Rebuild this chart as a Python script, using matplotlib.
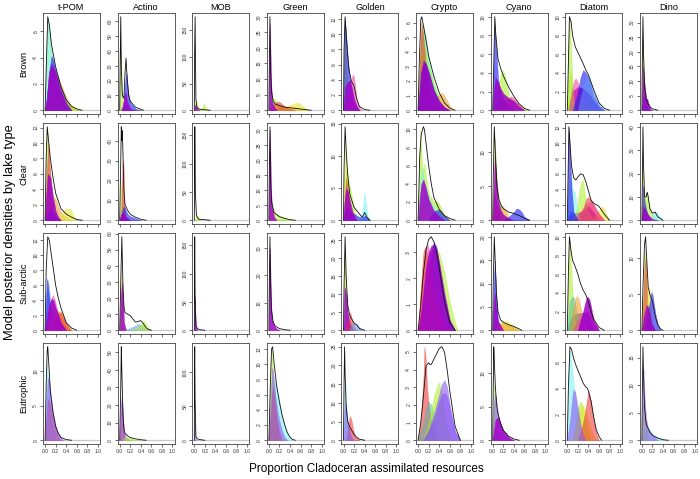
import matplotlib
matplotlib.use("Agg")
import matplotlib.pyplot as plt
from matplotlib.ticker import MaxNLocator
import numpy as np

plt.rcParams['font.family'] = ['Liberation Sans', 'DejaVu Sans']

RESOURCES = ["t-POM", "Actino", "MOB", "Green", "Golden", "Crypto", "Cyano", "Diatom", "Dino"]
LAKE_TYPES = ["Brown", "Clear", "Sub-arctic", "Eutrophic"]
X_TICKS = [0.0, 0.2, 0.4, 0.6, 0.8, 1.0]

# Each curve: (lake key, x knots, density knots); 'k' = pooled density line
BROWN_TPOM = [
    ("A", [0, 0.02, 0.05, 0.1, 0.15, 0.2, 0.3, 0.4, 0.5], [0, 4, 7.1, 5.5, 3.5, 2.2, 1, 0.4, 0]),
    ("O", [0, 0.05, 0.1, 0.15, 0.2, 0.3, 0.4, 0.45, 0.5, 0.6], [0, 1, 2.5, 3.2, 3, 2, 1, 0.6, 0.3, 0]),
    ("G", [0, 0.1, 0.2, 0.3, 0.4, 0.5, 0.6, 0.7], [0, 0.5, 1, 1, 0.6, 0.4, 0.1, 0]),
    ("B", [0, 0.03, 0.08, 0.12, 0.15, 0.2, 0.3, 0.4, 0.5], [0, 1, 3, 4.1, 3.9, 3, 1.6, 0.6, 0]),
    ("M", [0, 0.03, 0.07, 0.12, 0.15, 0.2, 0.3, 0.4, 0.5], [0, 0.8, 2.8, 3.5, 3.4, 2.8, 1.4, 0.4, 0]),
    ("k", [0, 0.02, 0.05, 0.08, 0.12, 0.2, 0.3, 0.4, 0.5, 0.6, 0.7], [0, 3, 7.1, 6.5, 5, 3.3, 1.8, 0.8, 0.3, 0.1, 0]),
]
BROWN_ACTINO = [
    ("G", [0, 0.01, 0.02, 0.04, 0.06, 0.1, 0.2], [0, 30, 40, 15, 5, 2, 0]),
    ("B", [0.05, 0.08, 0.11, 0.13, 0.16, 0.2, 0.3, 0.4], [0, 8, 22, 25, 12, 5, 1, 0]),
    ("M", [0.02, 0.06, 0.09, 0.11, 0.14, 0.2, 0.3], [0, 3, 10, 12, 6, 1, 0]),
    ("k", [0, 0.01, 0.02, 0.03, 0.05, 0.08, 0.1, 0.12, 0.14, 0.17, 0.2, 0.3, 0.45], [0, 35, 63, 30, 10, 8, 25, 35, 22, 10, 6, 2, 0]),
]
BROWN_MOB = [
    ("G", [0, 0.02, 0.04, 0.06, 0.08, 0.12, 0.16, 0.18, 0.2, 0.24, 0.3], [0, 15, 20, 12, 3, 2, 6, 13, 8, 2, 0]),
    ("M", [0, 0.01, 0.03, 0.06, 0.1], [0, 10, 8, 2, 0]),
    ("k", [0, 0.005, 0.015, 0.03, 0.05, 0.1, 0.2, 0.3], [0, 100, 175, 20, 5, 2, 1, 0]),
]
BROWN_GREEN = [
    ("O", [0.1, 0.2, 0.3, 0.4, 0.5, 0.6, 0.7], [0, 1.2, 1.3, 1.2, 1, 0.5, 0]),
    ("Y", [0.2, 0.3, 0.4, 0.5, 0.55, 0.6, 0.7, 0.75], [0, 0.8, 1.6, 2.3, 2.4, 2, 0.6, 0]),
    ("G", [0, 0.03, 0.06, 0.1, 0.15, 0.2, 0.3, 0.4], [0, 3, 4, 3.8, 2.5, 1.5, 0.5, 0]),
    ("R", [0, 0.05, 0.1, 0.15, 0.2, 0.25, 0.3, 0.4, 0.5], [0, 1, 2, 2.8, 2.7, 2, 1.2, 0.5, 0]),
    ("M", [0, 0.01, 0.02, 0.04, 0.06, 0.1, 0.15], [0, 15, 28, 10, 3, 1, 0]),
    ("k", [0, 0.01, 0.02, 0.03, 0.05, 0.08, 0.12, 0.2, 0.3, 0.5, 0.7, 0.8], [0, 18, 30, 14, 6, 3, 2, 1.5, 1, 0.6, 0.2, 0]),
]
BROWN_GOLDEN = [
    ("G", [0, 0.01, 0.03, 0.05, 0.08, 0.12], [0, 10, 12.3, 6, 2, 0]),
    ("B", [0, 0.02, 0.04, 0.08, 0.12, 0.16, 0.2, 0.3], [0, 12, 11, 7, 4, 2, 1, 0]),
    ("P", [0.05, 0.1, 0.15, 0.18, 0.2, 0.25, 0.3, 0.35], [0, 1.5, 4.2, 4.7, 4.3, 1.5, 0.4, 0]),
    ("M", [0, 0.03, 0.07, 0.12, 0.16, 0.2, 0.25, 0.3], [0, 3, 3.6, 4, 3, 1.5, 0.5, 0]),
    ("k", [0, 0.01, 0.03, 0.06, 0.1, 0.15, 0.2, 0.25, 0.3, 0.4, 0.5], [0, 8, 12.3, 9, 5.5, 3.8, 3.2, 1.5, 0.5, 0.1, 0]),
]
BROWN_CRYPTO = [
    ("A", [0, 0.05, 0.1, 0.15, 0.2, 0.25, 0.3, 0.4, 0.5], [0, 5, 5.8, 5, 3.6, 2.6, 1.8, 0.8, 0]),
    ("G", [0, 0.04, 0.08, 0.12, 0.2, 0.3, 0.4, 0.5, 0.6], [0, 4, 6, 4.5, 3, 1.8, 0.8, 0.2, 0]),
    ("R", [0, 0.03, 0.06, 0.1, 0.15, 0.2, 0.3], [0, 3, 6, 5, 3, 1.5, 0]),
    ("O", [0.2, 0.3, 0.4, 0.45, 0.5, 0.6, 0.65], [0, 0.6, 1.1, 1.2, 1, 0.3, 0]),
    ("B", [0, 0.05, 0.1, 0.15, 0.2, 0.3, 0.4, 0.5, 0.6], [0, 2.5, 3.4, 3.2, 2.6, 1.4, 0.6, 0.2, 0]),
    ("M", [0, 0.03, 0.06, 0.1, 0.14, 0.2, 0.3, 0.4, 0.5, 0.6], [0, 1.2, 2.6, 3.2, 3.2, 2.6, 1.3, 0.6, 0.2, 0]),
    ("k", [0, 0.02, 0.05, 0.07, 0.1, 0.15, 0.2, 0.3, 0.4, 0.5, 0.6, 0.7], [0, 3, 6.2, 6.4, 5.8, 4.8, 3.7, 2.3, 1.2, 0.5, 0.15, 0]),
]
BROWN_CYANO = [
    ("G", [0, 0.1, 0.2, 0.3, 0.4, 0.5, 0.6, 0.7], [0, 1, 1.5, 1.4, 1.1, 0.6, 0.2, 0]),
    ("G", [0.05, 0.1, 0.15, 0.2, 0.25, 0.3, 0.35, 0.4], [0, 2.5, 3.8, 4.3, 3.2, 1.8, 0.8, 0]),
    ("B", [0, 0.02, 0.04, 0.06, 0.1, 0.15, 0.2, 0.3, 0.4], [0, 5, 9, 7, 3.5, 1.8, 1.2, 0.5, 0]),
    ("P", [0.1, 0.2, 0.3, 0.35, 0.4, 0.5, 0.6], [0, 0.8, 1.3, 1.5, 1.3, 0.6, 0]),
    ("M", [0, 0.02, 0.05, 0.1, 0.15, 0.2, 0.3, 0.4, 0.5, 0.6], [0, 2, 3.5, 3, 2.3, 1.8, 1.3, 1, 0.4, 0]),
    ("k", [0, 0.02, 0.04, 0.06, 0.1, 0.15, 0.2, 0.3, 0.4, 0.5, 0.6, 0.7], [0, 5, 10, 8, 5.5, 4.5, 3.7, 2.5, 1.5, 0.7, 0.2, 0]),
]
BROWN_DIATOM = [
    ("M", [0, 0.05, 0.1, 0.2, 0.3, 0.4, 0.5, 0.6, 0.7], [0, 1, 2, 2.5, 2.3, 1.8, 1, 0.3, 0]),
    ("G", [0, 0.02, 0.04, 0.06, 0.09, 0.12, 0.15], [0, 6, 10, 8, 4, 1, 0]),
    ("G", [0, 0.03, 0.06, 0.1, 0.14], [0, 3, 4.2, 2, 0]),
    ("P", [0.03, 0.08, 0.13, 0.16, 0.2, 0.25, 0.3, 0.4], [0, 2, 3.2, 3.4, 3, 2, 1, 0]),
    ("B", [0.1, 0.2, 0.25, 0.3, 0.35, 0.4, 0.45, 0.5, 0.6, 0.7], [0, 2, 3.5, 4.3, 4, 3.5, 2.5, 1.5, 0.5, 0]),
    ("L", [0.2, 0.3, 0.37, 0.42, 0.5, 0.6, 0.7], [0, 2.5, 3.8, 3.4, 2, 0.6, 0]),
    ("k", [0, 0.02, 0.04, 0.07, 0.1, 0.15, 0.2, 0.25, 0.3, 0.35, 0.4, 0.5, 0.6, 0.7, 0.8], [0, 5, 10, 9.5, 8, 6.8, 6.2, 5.6, 5, 4.3, 3.8, 2.2, 0.8, 0.2, 0]),
]
BROWN_DINO = [
    ("G", [0, 0.01, 0.02, 0.04, 0.08, 0.12], [0, 15, 25, 10, 3, 0]),
    ("B", [0, 0.03, 0.06, 0.1, 0.15], [0, 5, 4, 1, 0]),
    ("M", [0, 0.02, 0.05, 0.08, 0.1, 0.13, 0.16, 0.2], [0, 15, 9, 4, 4, 2, 0.5, 0]),
    ("k", [0, 0.01, 0.02, 0.03, 0.05, 0.08, 0.12, 0.16, 0.2, 0.3], [0, 20, 32, 20, 8, 4, 2, 1, 0.5, 0]),
]

CLEAR_TPOM = [
    ("O", [0, 0.05, 0.1, 0.15, 0.2, 0.25, 0.3, 0.35, 0.4, 0.5], [0, 1, 2, 3, 2.8, 1.8, 1, 0.6, 0.4, 0]),
    ("Y", [0.2, 0.3, 0.35, 0.4, 0.45, 0.5, 0.55, 0.6], [0, 0.6, 1.2, 1.5, 1.5, 1.2, 0.5, 0]),
    ("G", [0, 0.02, 0.04, 0.07, 0.1, 0.15, 0.2, 0.25], [0, 8, 12, 8, 4, 2, 1, 0]),
    ("R", [0, 0.03, 0.06, 0.1, 0.15, 0.2], [0, 6, 10, 6, 2, 0]),
    ("B", [0, 0.05, 0.1, 0.15, 0.2, 0.3], [0, 1, 1.5, 1, 0.5, 0]),
    ("M", [0, 0.02, 0.05, 0.1, 0.15, 0.2, 0.25, 0.3], [0, 3, 6, 5.5, 3, 1.2, 0.4, 0]),
    ("k", [0, 0.02, 0.04, 0.07, 0.1, 0.15, 0.2, 0.3, 0.4, 0.5, 0.6, 0.7], [0, 8, 12.1, 10, 8, 5.5, 3.5, 1.5, 0.8, 0.4, 0.1, 0]),
]
CLEAR_ACTINO = [
    ("G", [0, 0.02, 0.04, 0.06, 0.1, 0.2], [0, 15, 20, 8, 2, 0]),
    ("R", [0, 0.03, 0.05, 0.07, 0.09, 0.12], [0, 5, 28, 30, 8, 0]),
    ("B", [0, 0.04, 0.07, 0.1, 0.15, 0.2, 0.3, 0.4], [0, 4, 7, 6, 3, 2, 1, 0]),
    ("M", [0, 0.03, 0.06, 0.1, 0.2], [0, 3, 4, 2, 0]),
    ("k", [0, 0.02, 0.03, 0.04, 0.05, 0.06, 0.08, 0.1, 0.15, 0.2, 0.3, 0.4, 0.5], [0, 30, 47, 40, 45, 35, 15, 8, 5, 3, 1.5, 0.5, 0]),
]
CLEAR_MOB = [
    ("G", [0, 0.03, 0.05, 0.08, 0.12], [0, 5, 10, 4, 0]),
    ("k", [0, 0.005, 0.01, 0.02, 0.04, 0.08, 0.2, 0.3], [0, 80, 165, 50, 8, 2, 1, 0]),
]
CLEAR_GREEN = [
    ("G", [0, 0.02, 0.05, 0.1, 0.15, 0.2, 0.3, 0.4, 0.5], [0, 8, 5, 3, 2, 1.5, 0.8, 0.3, 0]),
    ("M", [0, 0.01, 0.02, 0.04, 0.06, 0.1, 0.15], [0, 20, 30, 10, 4, 1, 0]),
    ("k", [0, 0.01, 0.02, 0.03, 0.05, 0.1, 0.2, 0.3, 0.4, 0.5], [0, 20, 31, 15, 6, 2.5, 1.2, 0.6, 0.2, 0]),
]
CLEAR_GOLDEN = [
    ("Y", [0, 0.02, 0.04, 0.06, 0.1, 0.15], [0, 8, 12, 8, 3, 0]),
    ("G", [0, 0.03, 0.06, 0.1, 0.15, 0.2, 0.25], [0, 6, 8, 6, 4, 2, 0]),
    ("R", [0, 0.03, 0.05, 0.08, 0.12, 0.18], [0, 4, 6.5, 5, 2, 0]),
    ("C", [0.3, 0.35, 0.38, 0.4, 0.42, 0.45, 0.5], [0, 1, 3, 4.3, 3, 1, 0]),
    ("B", [0, 0.05, 0.1, 0.2, 0.3, 0.35, 0.4, 0.45, 0.5], [0, 2, 1.5, 1, 0.5, 0.5, 0.7, 0.4, 0]),
    ("M", [0, 0.02, 0.05, 0.08, 0.12, 0.18, 0.25], [0, 3, 5, 4.5, 3, 1, 0]),
    ("k", [0, 0.01, 0.03, 0.05, 0.08, 0.12, 0.2, 0.3, 0.35, 0.38, 0.4, 0.42, 0.45, 0.5], [0, 8, 14.5, 11, 7, 4, 2, 1, 0.5, 0.8, 1.2, 0.9, 0.4, 0]),
]
CLEAR_CRYPTO = [
    ("G", [0, 0.02, 0.04, 0.08, 0.1, 0.12, 0.16, 0.2, 0.3, 0.35, 0.4, 0.5, 0.6], [0, 6, 10, 6, 5.5, 6.3, 4.5, 3, 2, 2.2, 1.8, 0.6, 0]),
    ("C", [0, 0.03, 0.06, 0.08, 0.12, 0.2, 0.3, 0.4, 0.5], [0, 3, 5.5, 5.8, 4, 2.5, 1.5, 0.6, 0]),
    ("B", [0.2, 0.3, 0.4, 0.5, 0.6], [0, 1, 1.2, 0.5, 0]),
    ("M", [0, 0.03, 0.06, 0.1, 0.15, 0.2, 0.3, 0.4, 0.5], [0, 2.5, 4, 4.5, 3.5, 2.3, 1, 0.4, 0]),
    ("k", [0, 0.03, 0.06, 0.1, 0.12, 0.15, 0.2, 0.25, 0.3, 0.4, 0.5, 0.6, 0.7], [0, 7, 9.5, 10.3, 10, 8.5, 6, 4, 2.5, 1.2, 0.5, 0.2, 0]),
]
CLEAR_CYANO = [
    ("G", [0, 0.02, 0.04, 0.07, 0.1, 0.15, 0.2, 0.3], [0, 8, 12, 7, 4, 2, 1, 0]),
    ("O", [0.05, 0.1, 0.15, 0.2, 0.25, 0.3, 0.35], [0, 1.5, 2.2, 2, 1.4, 0.6, 0]),
    ("R", [0, 0.03, 0.06, 0.1, 0.15], [0, 4, 3, 1.5, 0]),
    ("B", [0.2, 0.3, 0.4, 0.45, 0.5, 0.55, 0.6, 0.7], [0, 0.5, 1.2, 1.7, 1.6, 1.2, 0.5, 0]),
    ("M", [0, 0.02, 0.04, 0.06, 0.1, 0.15, 0.2, 0.3, 0.4], [0, 5, 9.5, 7, 3, 1.5, 0.8, 0.3, 0]),
    ("k", [0, 0.01, 0.03, 0.05, 0.08, 0.12, 0.16, 0.2, 0.3, 0.4, 0.5, 0.6, 0.7], [0, 6, 13.7, 10, 5, 3, 2.2, 1.7, 1.2, 1, 0.7, 0.3, 0]),
]
CLEAR_DIATOM = [
    ("B", [0, 0.05, 0.15, 0.3, 0.45, 0.55], [0, 1.2, 0.9, 0.8, 0.6, 0]),
    ("M", [0, 0.05, 0.1, 0.2, 0.3, 0.4, 0.5, 0.6], [0, 0.5, 0.8, 1, 1.2, 1.8, 1, 0]),
    ("C", [0, 0.03, 0.06, 0.1, 0.15, 0.2, 0.25], [0, 4, 6.3, 4, 3.5, 1, 0]),
    ("G", [0.1, 0.18, 0.22, 0.26, 0.3, 0.34, 0.4, 0.5], [0, 1.5, 3.5, 5, 5.2, 3, 1, 0]),
    ("Y", [0.45, 0.55, 0.62, 0.66, 0.7, 0.75, 0.8], [0, 0.8, 1.5, 1.8, 1.5, 0.6, 0]),
    ("R", [0.2, 0.3, 0.36, 0.4, 0.45, 0.5, 0.6, 0.7], [0, 1.5, 2.8, 3, 2.6, 2, 0.8, 0]),
    ("P", [0.1, 0.2, 0.3, 0.4, 0.45, 0.5, 0.6, 0.7], [0, 0.8, 1.5, 2.2, 2.5, 2, 0.8, 0]),
    ("B", [0, 0.02, 0.03, 0.05, 0.08, 0.12, 0.2], [0, 8, 12, 9, 4, 1, 0]),
    ("k", [0, 0.02, 0.03, 0.05, 0.08, 0.12, 0.16, 0.2, 0.25, 0.3, 0.35, 0.4, 0.45, 0.5, 0.55, 0.6, 0.7, 0.8], [0, 8, 12.1, 10, 7, 5.5, 5.2, 5.6, 6, 5.9, 5, 3.8, 2.6, 2.2, 2, 1.8, 0.8, 0]),
]
CLEAR_DINO = [
    ("Y", [0, 0.01, 0.02, 0.03, 0.05, 0.08], [0, 15, 25, 15, 5, 0]),
    ("G", [0, 0.03, 0.06, 0.1, 0.13, 0.16, 0.2, 0.3], [0, 8, 10, 12, 8, 5, 2, 0]),
    ("C", [0.1, 0.2, 0.25, 0.3, 0.35, 0.4], [0, 2.5, 4, 3, 1.2, 0]),
    ("B", [0, 0.02, 0.05, 0.1, 0.15], [0, 15, 8, 3, 0]),
    ("M", [0, 0.02, 0.05, 0.1, 0.15, 0.2, 0.3], [0, 6, 5, 3, 1.5, 0.5, 0]),
    ("k", [0, 0.01, 0.02, 0.03, 0.05, 0.08, 0.1, 0.12, 0.15, 0.2, 0.25, 0.3, 0.4], [0, 20, 40, 25, 10, 10, 12, 10, 5, 3, 3.5, 1.5, 0]),
]

SUB_TPOM = [
    ("L", [0, 0.02, 0.04, 0.07, 0.1, 0.15, 0.2, 0.3], [0, 5, 7, 6, 4, 2, 1, 0]),
    ("B", [0, 0.02, 0.04, 0.08, 0.12, 0.2, 0.3], [0, 4, 6.8, 4, 2, 0.5, 0]),
    ("G", [0.05, 0.1, 0.15, 0.2, 0.25, 0.3, 0.4, 0.5], [0, 1.5, 3, 3, 2.5, 1.5, 0.4, 0]),
    ("O", [0.05, 0.15, 0.2, 0.25, 0.3, 0.35, 0.4, 0.45, 0.5], [0, 1.5, 2, 2.5, 2.5, 2, 1, 0.4, 0]),
    ("R", [0.1, 0.2, 0.25, 0.3, 0.35, 0.4, 0.5], [0, 1.8, 2.3, 2.3, 1.5, 0.8, 0]),
    ("P", [0.02, 0.08, 0.12, 0.15, 0.18, 0.22, 0.3, 0.4], [0, 2.5, 4.3, 4.7, 4.2, 3, 1, 0]),
    ("M", [0, 0.04, 0.08, 0.12, 0.16, 0.2, 0.3, 0.4], [0, 2, 3.5, 4.2, 4, 3, 1, 0]),
    ("k", [0, 0.02, 0.05, 0.08, 0.12, 0.16, 0.2, 0.25, 0.3, 0.35, 0.4, 0.5, 0.6], [0, 8, 12.5, 12, 10, 8, 6, 4.3, 3, 2, 1, 0.3, 0]),
]
SUB_ACTINO = [
    ("Y", [0, 0.02, 0.03, 0.05, 0.07, 0.1], [0, 20, 35, 25, 6, 0]),
    ("M", [0, 0.02, 0.04, 0.06, 0.08, 0.12], [0, 20, 30, 20, 5, 0]),
    ("L", [0.1, 0.2, 0.3, 0.35, 0.4, 0.45, 0.5, 0.55], [0, 1.5, 3, 4, 3.5, 2, 0.5, 0]),
    ("G", [0.2, 0.3, 0.4, 0.45, 0.5, 0.55, 0.6], [0, 1, 3.5, 6, 4, 1, 0]),
    ("k", [0, 0.02, 0.04, 0.06, 0.08, 0.1, 0.15, 0.2, 0.3, 0.35, 0.4, 0.45, 0.5, 0.55, 0.6], [0, 30, 58, 30, 15, 11, 10, 9, 5, 5.5, 6, 4, 1.5, 0.5, 0]),
]
SUB_MOB = [
    ("M", [0, 0.005, 0.01, 0.03, 0.06], [0, 30, 60, 5, 0]),
    ("k", [0, 0.004, 0.008, 0.015, 0.03, 0.06, 0.1, 0.2], [0, 100, 165, 60, 8, 3, 1, 0]),
]
SUB_GREEN = [
    ("M", [0, 0.01, 0.02, 0.04, 0.06, 0.1, 0.15, 0.2], [0, 20, 30, 10, 4, 1.5, 0.5, 0]),
    ("k", [0, 0.01, 0.02, 0.03, 0.05, 0.08, 0.12, 0.2, 0.3, 0.4], [0, 22, 34, 18, 7, 3, 1.5, 0.6, 0.2, 0]),
]
SUB_GOLDEN = [
    ("G", [0, 0.02, 0.03, 0.05, 0.08, 0.12], [0, 15, 22, 12, 4, 0]),
    ("M", [0, 0.02, 0.05, 0.08, 0.12, 0.18], [0, 12, 10, 5, 2, 0]),
    ("R", [0.05, 0.1, 0.13, 0.16, 0.2, 0.25], [0, 3, 5, 3, 1, 0]),
    ("L", [0.1, 0.15, 0.2, 0.25, 0.3, 0.35], [0, 1.5, 2, 1.8, 0.8, 0]),
    ("k", [0, 0.01, 0.03, 0.05, 0.08, 0.12, 0.16, 0.2, 0.25, 0.3, 0.4], [0, 12, 26, 15, 7, 4, 3, 2, 1.5, 0.5, 0]),
]
SUB_CRYPTO = [
    ("G", [0, 0.1, 0.2, 0.3, 0.35, 0.4, 0.5, 0.6, 0.7, 0.75], [0, 1, 2.2, 3, 3.1, 3, 2.2, 1.1, 0.3, 0]),
    ("B", [0, 0.1, 0.2, 0.25, 0.3, 0.35, 0.4, 0.5, 0.6, 0.7], [0, 1, 2.3, 3, 3.4, 3.2, 2.5, 1.2, 0.3, 0]),
    ("R", [0, 0.05, 0.1, 0.13, 0.16, 0.2, 0.3, 0.4, 0.5], [0, 1.6, 3, 3.2, 3, 2.5, 1.2, 0.4, 0]),
    ("O", [0, 0.05, 0.1, 0.13, 0.2, 0.3, 0.4, 0.5], [0, 1.5, 2.8, 3, 2.5, 1.3, 0.4, 0]),
    ("P", [0, 0.05, 0.1, 0.15, 0.18, 0.22, 0.3, 0.4, 0.5, 0.6], [0, 1, 2.4, 3.2, 3.3, 3, 2, 1, 0.3, 0]),
    ("M", [0, 0.05, 0.1, 0.15, 0.2, 0.25, 0.3, 0.35, 0.4, 0.5, 0.6, 0.7], [0, 0.6, 1.5, 2.4, 3, 3.25, 3.3, 3.1, 2.6, 1.4, 0.4, 0]),
    ("k", [0, 0.05, 0.1, 0.15, 0.2, 0.25, 0.3, 0.35, 0.4, 0.5, 0.6, 0.7], [0, 1, 2.2, 3.1, 3.5, 3.6, 3.4, 3, 2.4, 1.1, 0.3, 0]),
]
SUB_CYANO = [
    ("B", [0, 0.02, 0.04, 0.07, 0.1, 0.15], [0, 10, 15, 7, 2, 0]),
    ("Y", [0.05, 0.1, 0.2, 0.3, 0.35, 0.4, 0.45, 0.5], [0, 1.5, 2, 1.8, 1.3, 1, 0.5, 0]),
    ("O", [0.05, 0.1, 0.2, 0.3, 0.4, 0.5], [0, 1.2, 1.5, 1.2, 0.6, 0]),
    ("M", [0, 0.02, 0.04, 0.06, 0.1, 0.15, 0.2], [0, 6, 8, 5, 2, 1, 0]),
    ("k", [0, 0.01, 0.03, 0.05, 0.07, 0.1, 0.15, 0.2, 0.3, 0.4, 0.5, 0.55], [0, 10, 20, 14, 8, 4, 2.2, 1.7, 1.2, 0.8, 0.3, 0]),
]
SUB_DIATOM = [
    ("B", [0, 0.05, 0.1, 0.2, 0.3, 0.35, 0.4, 0.5], [0, 1, 1.5, 1.8, 1.9, 1.9, 1.5, 0]),
    ("G", [0, 0.02, 0.04, 0.06, 0.09, 0.12, 0.15, 0.2], [0, 6, 10, 8.5, 5, 2, 0.5, 0]),
    ("T", [0, 0.04, 0.08, 0.12, 0.16, 0.2, 0.25], [0, 3, 3.5, 3.6, 2.5, 1, 0]),
    ("O", [0.05, 0.1, 0.15, 0.18, 0.22, 0.25, 0.3, 0.35], [0, 2, 3.4, 3.7, 3.3, 2.5, 1, 0]),
    ("P", [0.1, 0.2, 0.3, 0.4, 0.5, 0.6], [0, 1, 1.8, 2, 1, 0]),
    ("M", [0.2, 0.3, 0.35, 0.38, 0.42, 0.45, 0.5, 0.6], [0, 2, 3.2, 3.6, 3.3, 2.5, 1, 0]),
    ("k", [0, 0.02, 0.04, 0.07, 0.1, 0.15, 0.2, 0.25, 0.3, 0.35, 0.4, 0.45, 0.5, 0.6, 0.7], [0, 6, 10, 8.5, 7.5, 6.8, 6, 5, 4.3, 3.8, 3, 2, 1.2, 0.3, 0]),
]
SUB_DINO = [
    ("G", [0, 0.03, 0.05, 0.07, 0.1, 0.13, 0.16, 0.2], [0, 6, 11, 10, 6, 3, 1, 0]),
    ("R", [0, 0.03, 0.05, 0.07, 0.1, 0.15], [0, 5, 9, 10, 4, 0]),
    ("Y", [0.05, 0.1, 0.13, 0.15, 0.18, 0.22], [0, 4, 6, 5.5, 2, 0]),
    ("B", [0.05, 0.1, 0.15, 0.18, 0.2, 0.25, 0.3, 0.35], [0, 2, 4, 5.3, 5, 2.5, 0.8, 0]),
    ("M", [0, 0.04, 0.08, 0.1, 0.13, 0.18, 0.25], [0, 2, 3.3, 3.5, 3, 1, 0]),
    ("k", [0, 0.02, 0.05, 0.07, 0.09, 0.12, 0.15, 0.2, 0.25, 0.3, 0.35, 0.4], [0, 6, 12, 13, 10, 6, 5, 4, 2, 0.8, 0.2, 0]),
]

EUT_TPOM = [
    ("C", [0, 0.02, 0.04, 0.06, 0.1, 0.15, 0.2], [0, 8, 11, 9, 4, 1.5, 0]),
    ("R", [0, 0.05, 0.1, 0.15, 0.2, 0.25, 0.3], [0, 6, 5, 3, 1.5, 0.5, 0]),
    ("V", [0, 0.02, 0.05, 0.08, 0.1, 0.15, 0.2, 0.25, 0.3, 0.35], [0, 5, 9, 8.5, 7, 4, 2, 1, 0.4, 0]),
    ("k", [0, 0.02, 0.04, 0.05, 0.07, 0.1, 0.15, 0.2, 0.25, 0.3, 0.4, 0.5], [0, 8, 13, 13.5, 11, 7, 4, 2, 1, 0.4, 0.1, 0]),
]
EUT_ACTINO = [
    ("R", [0, 0.03, 0.05, 0.07, 0.1], [0, 15, 22, 10, 0]),
    ("V", [0, 0.02, 0.04, 0.06, 0.08, 0.12, 0.2], [0, 20, 25, 15, 5, 1.5, 0]),
    ("G", [0.05, 0.1, 0.2, 0.3, 0.4], [0, 2, 1.2, 0.5, 0]),
    ("k", [0, 0.02, 0.03, 0.04, 0.06, 0.08, 0.1, 0.15, 0.2, 0.3, 0.4, 0.5], [0, 30, 53, 40, 15, 6, 4, 2.5, 1.5, 0.8, 0.3, 0]),
]
EUT_MOB = [
    ("V", [0, 0.005, 0.01, 0.02, 0.04], [0, 20, 25, 5, 0]),
    ("k", [0, 0.004, 0.008, 0.015, 0.03, 0.06, 0.1, 0.2], [0, 100, 138, 60, 6, 2, 1, 0]),
]
EUT_GREEN = [
    ("C", [0.02, 0.06, 0.1, 0.14, 0.18, 0.22, 0.26, 0.3, 0.35, 0.4, 0.45], [0, 6, 8, 7.5, 6, 4.5, 3, 1.8, 0.8, 0.3, 0]),
    ("G", [0, 0.03, 0.05, 0.07, 0.1, 0.15, 0.2], [0, 8, 12, 10, 6, 2, 0]),
    ("R", [0, 0.04, 0.07, 0.1, 0.15, 0.2, 0.25], [0, 4, 7, 6, 3, 1, 0]),
    ("V", [0, 0.03, 0.06, 0.08, 0.12, 0.16, 0.2, 0.25, 0.3, 0.35], [0, 5, 9.5, 9, 6, 4, 2.5, 1.2, 0.4, 0]),
    ("k", [0, 0.03, 0.05, 0.07, 0.1, 0.15, 0.2, 0.25, 0.3, 0.35, 0.4, 0.45, 0.5], [0, 8, 12, 12.3, 10, 7, 5, 3.3, 2, 1, 0.4, 0.1, 0]),
]
EUT_GOLDEN = [
    ("C", [0, 0.02, 0.04, 0.06, 0.1, 0.15], [0, 12, 15, 8, 3, 0]),
    ("R", [0.05, 0.08, 0.12, 0.15, 0.18, 0.22, 0.3], [0, 3, 6.5, 5.5, 3, 1, 0]),
    ("V", [0, 0.02, 0.04, 0.07, 0.1, 0.15, 0.2], [0, 8, 10, 6, 3, 1, 0]),
    ("k", [0, 0.01, 0.02, 0.03, 0.05, 0.08, 0.12, 0.16, 0.2, 0.25, 0.3, 0.4], [0, 15, 25, 18, 9, 5, 3.5, 2.5, 1.5, 0.8, 0.3, 0]),
]
EUT_CRYPTO = [
    ("R", [0, 0.05, 0.1, 0.12, 0.14, 0.17, 0.2, 0.25, 0.3, 0.35], [0, 1, 3.5, 5.3, 4.8, 3, 2, 1, 0.3, 0]),
    ("T", [0, 0.1, 0.15, 0.2, 0.25, 0.3, 0.35, 0.4], [0, 1, 1.8, 2.2, 2, 1.5, 0.7, 0]),
    ("G", [0.1, 0.2, 0.3, 0.35, 0.4, 0.45, 0.5, 0.6], [0, 1, 2.5, 3, 3.3, 2.6, 1.5, 0]),
    ("V", [0.1, 0.2, 0.3, 0.4, 0.45, 0.5, 0.55, 0.6, 0.7, 0.8], [0, 0.6, 1.5, 2.6, 3.2, 3.4, 3, 2, 0.5, 0]),
    ("V", [0.1, 0.2, 0.3, 0.4, 0.45, 0.5, 0.55, 0.6, 0.7, 0.8], [0, 0.5, 1.2, 2.2, 2.6, 2.7, 2.5, 1.8, 0.5, 0]),
    ("k", [0, 0.05, 0.1, 0.15, 0.2, 0.22, 0.25, 0.3, 0.35, 0.4, 0.45, 0.5, 0.55, 0.6, 0.7, 0.8], [0, 1, 2.5, 4.2, 4.4, 4.3, 4.3, 4.6, 4.9, 5.2, 5.3, 5, 4, 2.8, 0.8, 0]),
]
EUT_CYANO = [
    ("G", [0, 0.02, 0.03, 0.05, 0.08, 0.12], [0, 6, 8.5, 6, 2, 0]),
    ("V", [0, 0.02, 0.04, 0.06, 0.1, 0.15, 0.2, 0.3, 0.4], [0, 5, 7, 6.5, 4, 2, 1, 0.3, 0]),
    ("M", [0, 0.05, 0.1, 0.15, 0.2, 0.3, 0.4], [0, 3, 3.5, 2.5, 1.5, 0.5, 0]),
    ("k", [0, 0.01, 0.02, 0.03, 0.05, 0.08, 0.1, 0.15, 0.2, 0.3, 0.4, 0.5], [0, 8, 14, 12, 8, 5, 4, 2.5, 1.5, 0.6, 0.2, 0]),
]
EUT_DIATOM = [
    ("C", [0, 0.02, 0.04, 0.06, 0.1, 0.15, 0.2, 0.25, 0.3], [0, 5, 7, 6.8, 5.2, 3.3, 2, 1, 0]),
    ("G", [0.1, 0.15, 0.2, 0.25, 0.3, 0.35, 0.4, 0.45], [0, 1, 2.5, 3, 2.6, 1.5, 0.5, 0]),
    ("Y", [0.1, 0.2, 0.25, 0.3, 0.35, 0.4, 0.45, 0.5, 0.55], [0, 1.5, 2.5, 2.7, 2.3, 1.5, 0.8, 0.3, 0]),
    ("R", [0.2, 0.28, 0.33, 0.38, 0.4, 0.45, 0.5, 0.55, 0.6], [0, 1, 2, 3.3, 3.8, 3, 1.5, 0.5, 0]),
    ("V", [0, 0.05, 0.1, 0.12, 0.15, 0.2, 0.25, 0.3, 0.35], [0, 1.5, 3.5, 3.9, 3.7, 2.5, 1.2, 0.4, 0]),
    ("k", [0, 0.02, 0.05, 0.08, 0.12, 0.16, 0.2, 0.25, 0.3, 0.35, 0.38, 0.4, 0.45, 0.5, 0.55, 0.6, 0.65], [0, 4, 7.2, 7, 6.3, 5.8, 5.4, 4.9, 4.4, 4.1, 4, 3.8, 3, 1.8, 0.8, 0.3, 0]),
]
EUT_DINO = [
    ("C", [0, 0.05, 0.1, 0.15, 0.2, 0.3, 0.4, 0.45], [0, 2, 2.5, 2, 1, 0.6, 0.2, 0]),
    ("G", [0, 0.02, 0.04, 0.08, 0.12], [0, 7, 6, 3, 0]),
    ("V", [0, 0.02, 0.03, 0.05, 0.08, 0.12, 0.2, 0.3], [0, 10, 13, 8, 4, 2, 1, 0]),
    ("k", [0, 0.01, 0.02, 0.03, 0.05, 0.08, 0.1, 0.15, 0.2, 0.3, 0.4, 0.5], [0, 10, 17, 12, 6, 3, 2.5, 1.5, 0.9, 0.4, 0.1, 0]),
]

PANELS = [
    [BROWN_TPOM, BROWN_ACTINO, BROWN_MOB, BROWN_GREEN, BROWN_GOLDEN, BROWN_CRYPTO, BROWN_CYANO, BROWN_DIATOM, BROWN_DINO],
    [CLEAR_TPOM, CLEAR_ACTINO, CLEAR_MOB, CLEAR_GREEN, CLEAR_GOLDEN, CLEAR_CRYPTO, CLEAR_CYANO, CLEAR_DIATOM, CLEAR_DINO],
    [SUB_TPOM, SUB_ACTINO, SUB_MOB, SUB_GREEN, SUB_GOLDEN, SUB_CRYPTO, SUB_CYANO, SUB_DIATOM, SUB_DINO],
    [EUT_TPOM, EUT_ACTINO, EUT_MOB, EUT_GREEN, EUT_GOLDEN, EUT_CRYPTO, EUT_CYANO, EUT_DIATOM, EUT_DINO],
]

# styling
COLORS = {
    "A": ("#5CF0B8", 0.55), "G": ("#A8EE22", 0.55), "C": ("#66F0F4", 0.5),
    "L": ("#5C9CF4", 0.55), "B": ("#1818F0", 0.6), "M": ("#A000C8", 0.85),
    "R": ("#EE2A2A", 0.55), "O": ("#EE9A22", 0.55), "Y": ("#E6E633", 0.6),
    "P": ("#F03C9C", 0.55), "V": ("#8A58F2", 0.6), "T": ("#48B8A8", 0.5),
}

W, H = 700, 479
fig = plt.figure(figsize=(W / 100, H / 100), dpi=100)

col_left0, col_step, pw = 43, 74.6, 57
row_top0, row_step, ph = 13, 110, 101

for r, row in enumerate(PANELS):
    for c, curves in enumerate(row):
        left = (col_left0 + c * col_step) / W
        bottom = 1 - (row_top0 + r * row_step + ph) / H
        ax = fig.add_axes([left, bottom, pw / W, ph / H])
        ymax = max(max(cv[2]) for cv in curves)
        ax.axhline(0, color="#c8c8c8", lw=0.9, zorder=0)
        for key, xs, ys in curves:
            if key == "k":
                continue
            col, a = COLORS[key]
            ax.fill_between(xs, ys, 0, facecolor=col, alpha=a, edgecolor=col, lw=0.3, zorder=2)
        for key, xs, ys in curves:
            if key == "k":
                ax.plot(xs, ys, color="#111111", lw=0.6, zorder=4)
        ax.set_xlim(-0.04, 1.04)
        ax.set_ylim(-0.04 * ymax, 1.04 * ymax)
        ax.set_xticks(X_TICKS)
        ax.yaxis.set_major_locator(MaxNLocator(nbins=7, steps=[1, 2, 5, 10], integer=False))
        ax.tick_params(axis="both", direction="out", length=2.2, width=0.5, colors="#333333",
                       labelsize=3.6, pad=1.2)
        for lab in ax.get_yticklabels():
            lab.set_rotation(90)
            lab.set_va("center")
        if r == len(PANELS) - 1:
            ax.set_xticklabels([f"{v:.1f}" for v in X_TICKS])
        else:
            ax.set_xticklabels([])
        for s in ax.spines.values():
            s.set_color("#444444")
            s.set_linewidth(0.6)
        if r == 0:
            ax.set_title(RESOURCES[c], fontsize=6.6, pad=2.5)
        if c == 0:
            ax.text(-0.33, 0.5, LAKE_TYPES[r], rotation=90, transform=ax.transAxes,
                    ha="center", va="center", fontsize=6.6)

fig.text(10 / W, 1 - 232 / H, "Model posterior densities by lake type", rotation=90,
         ha="center", va="center", fontsize=9.3)
fig.text(366 / W, 1 - 469 / H, "Proportion Cladoceran assimilated resources",
         ha="center", va="center", fontsize=8.5)

fig.savefig("out.png", dpi=100)
